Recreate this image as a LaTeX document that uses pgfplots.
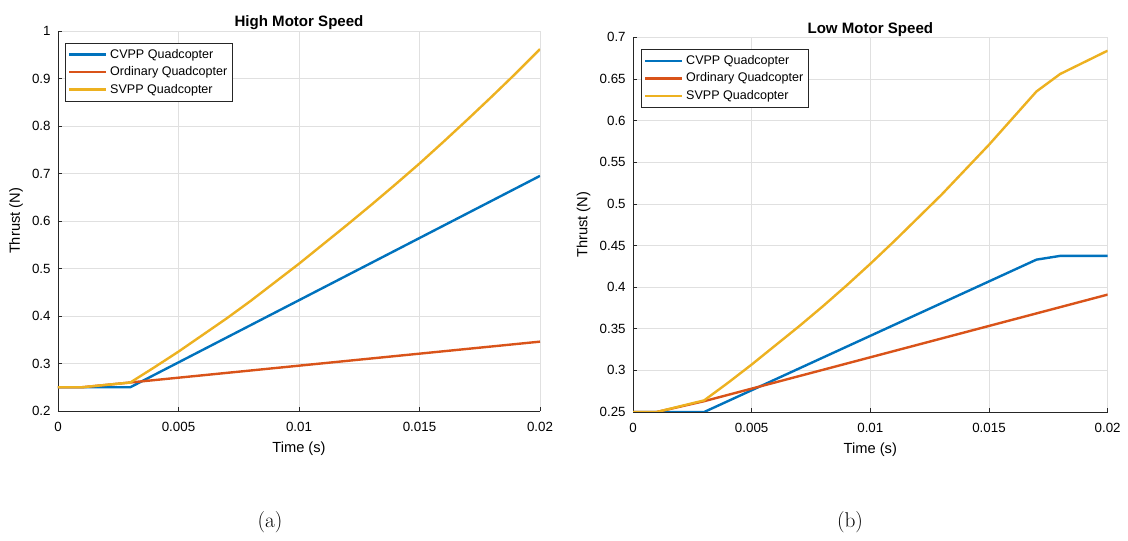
\documentclass[border=0pt]{standalone}
\usepackage{fontspec}
\usepackage{pgfplots}
\pgfplotsset{compat=1.18}
\newfontfamily\arial{Liberation Sans}

\definecolor{mblue}{rgb}{0,0.447,0.741}
\definecolor{mred}{rgb}{0.85,0.325,0.098}
\definecolor{myellow}{rgb}{0.929,0.694,0.125}
\definecolor{axgray}{rgb}{0.15,0.15,0.15}

\pgfplotsset{
  matlab/.style={
    scale only axis,
    font=\arial\fontsize{10}{12}\selectfont,
    /pgf/number format/assume math mode=true,
    axis lines=left,
    axis line style={-, axgray, line width=0.6pt},
    tick style={axgray, line width=0.5pt},
    tick align=inside,
    major tick length=3pt,
    grid=major,
    grid style={black!12, line width=0.5pt},
    scaled x ticks=false,
    scaled y ticks=false,
    xmin=0, xmax=0.02,
    xtick={0,0.005,0.01,0.015,0.02},
    xticklabels={0,0.005,0.01,0.015,0.02},
    xticklabel style={yshift=-5pt},
    yticklabel style={xshift=-2pt},
    xlabel={Time (s)},
    ylabel={Thrust (N)},
    xlabel style={font=\arial\fontsize{11}{13}\selectfont, yshift=-1pt},
    ylabel style={font=\arial\fontsize{11}{13}\selectfont},
    title style={font=\arial\bfseries\fontsize{11.3}{13}\selectfont, inner sep=1pt, yshift=-6.5pt},
    legend cell align=left,
    legend style={anchor=north west, draw=axgray,
      line width=0.5pt, font=\arial\fontsize{9.4}{11}\selectfont,
      row sep=0.8pt, inner xsep=2pt, inner ysep=2.5pt},
    legend image code/.code={\draw[#1] (0cm,0cm) -- (0.98cm,0cm);},
    every axis plot/.append style={line width=1.8pt, line join=round},
  },
}

\begin{document}
\begin{tikzpicture}
\useasboundingbox (-43.5pt,-97.5pt) rectangle (802.5pt,308.25pt);

% (a) high motor speed
\begin{axis}[matlab,
  at={(0pt,0pt)}, anchor=south west,
  width=361.5pt, height=285pt,
  ymin=0.2, ymax=1,
  ytick={0.2,0.3,0.4,0.5,0.6,0.7,0.8,0.9,1},
  yticklabels={0.2,0.3,0.4,0.5,0.6,0.7,0.8,0.9,1},
  title={High Motor Speed},
  legend style={at={(0.0145,0.969)}},
]
\addplot[mblue] coordinates {
  (0,0.25) (0.001,0.25) (0.003,0.25) (0.02,0.695)
};
\addplot[mred] coordinates {
  (0,0.25) (0.001,0.25) (0.003,0.26) (0.02,0.346)
};
\addplot[myellow] coordinates {
  (0,0.25) (0.001,0.25) (0.003,0.26) (0.004,0.292) (0.005,0.325)
  (0.006,0.360) (0.007,0.395) (0.008,0.432) (0.009,0.471) (0.010,0.510)
  (0.011,0.551) (0.012,0.592) (0.013,0.634) (0.014,0.677) (0.015,0.721)
  (0.016,0.767) (0.017,0.814) (0.018,0.862) (0.019,0.911) (0.020,0.962)
};
\legend{CVPP Quadcopter, Ordinary Quadcopter, SVPP Quadcopter}
\end{axis}

% (b) low motor speed
\begin{axis}[matlab,
  at={(431.25pt,-0.75pt)}, anchor=south west,
  width=356pt, height=281pt,
  ymin=0.25, ymax=0.7,
  ytick={0.25,0.3,0.35,0.4,0.45,0.5,0.55,0.6,0.65,0.7},
  yticklabels={0.25,0.3,0.35,0.4,0.45,0.5,0.55,0.6,0.65,0.7},
  title={Low Motor Speed},
  legend style={at={(0.0168,0.969)}},
]
\addplot[mblue] coordinates {
  (0,0.25) (0.001,0.25) (0.003,0.25) (0.017,0.433) (0.018,0.4375) (0.02,0.4375)
};
\addplot[mred] coordinates {
  (0,0.25) (0.001,0.25) (0.003,0.263) (0.02,0.391)
};
\addplot[myellow] coordinates {
  (0,0.25) (0.001,0.25) (0.003,0.264) (0.004,0.285) (0.005,0.307)
  (0.006,0.330) (0.007,0.353) (0.008,0.377) (0.009,0.402) (0.010,0.428)
  (0.011,0.455) (0.012,0.483) (0.013,0.511) (0.014,0.541) (0.015,0.571)
  (0.016,0.603) (0.017,0.635) (0.018,0.656) (0.019,0.670) (0.020,0.684)
};
\legend{CVPP Quadcopter, Ordinary Quadcopter, SVPP Quadcopter}
\end{axis}

\node[font=\fontsize{16}{18}\selectfont] at (159pt,-83.25pt) {(a)};
\node[font=\fontsize{16}{18}\selectfont] at (594pt,-83.25pt) {(b)};
\end{tikzpicture}
\end{document}
